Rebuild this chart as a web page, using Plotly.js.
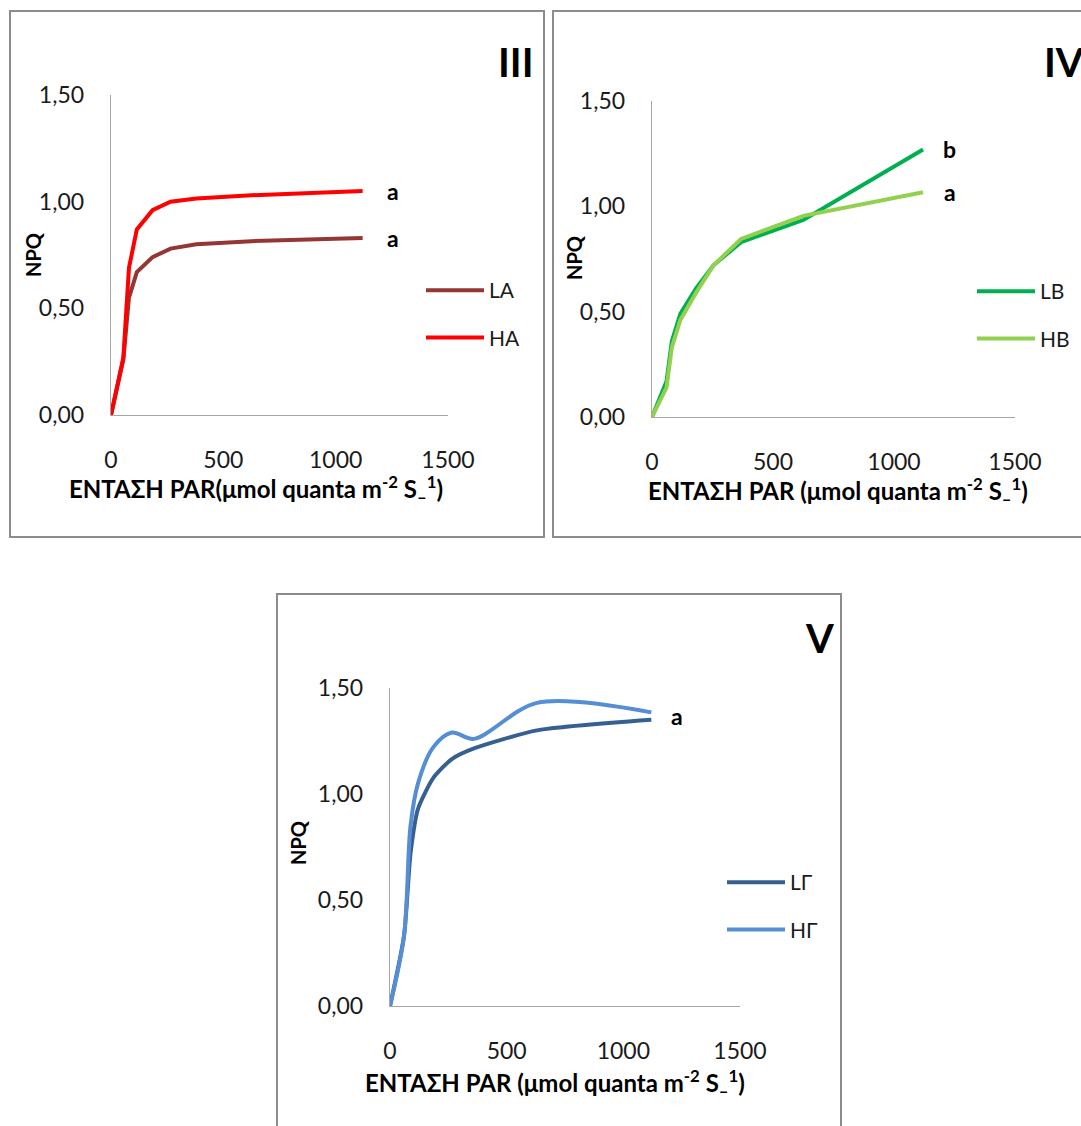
<!DOCTYPE html>
<html>
<head>
<meta charset="utf-8">
<script src="https://cdn.plot.ly/plotly-3.0.1.min.js"></script>
<style>html,body{margin:0;padding:0;background:#fff;}#chart{width:1081px;height:1126px;}</style>
</head>
<body>
<div id="chart"></div>
<script>
// ---- data ----
const parIII = [0, 55, 80, 115, 185, 265, 380, 625, 1120];
const LA = [0, 0.26, 0.55, 0.67, 0.74, 0.78, 0.80, 0.815, 0.83];
const HA = [0, 0.27, 0.69, 0.87, 0.96, 1.00, 1.015, 1.03, 1.05];

const parIV = [0, 60, 82, 117, 182, 254, 368, 625, 1120];
const LB = [0, 0.17, 0.36, 0.49, 0.61, 0.72, 0.83, 0.935, 1.27];
const HB = [0, 0.14, 0.33, 0.46, 0.59, 0.72, 0.845, 0.955, 1.067];

const parV = [0, 60, 88, 120, 185, 265, 360, 630, 1120];
const LG = [0, 0.33, 0.72, 0.93, 1.075, 1.165, 1.215, 1.30, 1.35];
const HG = [0, 0.33, 0.85, 1.05, 1.22, 1.29, 1.26, 1.43, 1.385];

const xTickVals = [0, 500, 1000, 1500];
const xTickText = ['0', '500', '1000', '1500'];
const yTickVals = [0, 0.5, 1, 1.5];
const yTickText = ['0,00', '0,50', '1,00', '1,50'];

const sigIII = ['a', 'a'];   // LA, HA
const sigIV = ['b', 'a'];    // LB, HB
const sigV = ['a'];

const xTitle1 = 'ΕΝΤΑΣΗ PAR(μmol quanta m<sup>-2</sup> S<sub>–</sub><sup>1</sup>)';
const xTitle2 = 'ΕΝΤΑΣΗ PAR (μmol quanta m<sup>-2</sup> S<sub>–</sub><sup>1</sup>)';

// ---- layout helpers ----
const W = 1081, H = 1126;
const px = v => v / W;
const py = v => 1 - v / H;
const FONT = 'Lato, "Open Sans", sans-serif';
const TXT = '#1a1a1a';

function xa(d) {
  return {domain: d, range: [0, 1500], tickvals: xTickVals, ticktext: xTickText,
    showline: true, linecolor: '#a6a6a6', linewidth: 1.3, showgrid: false, zeroline: false,
    ticks: '', ticklabelstandoff: 24, tickfont: {family: FONT, size: 23, color: TXT}, fixedrange: true};
}
function ya(d) {
  return {domain: d, range: [0, 1.5], tickvals: yTickVals, ticktext: yTickText,
    showline: true, linecolor: '#a6a6a6', linewidth: 1.3, showgrid: false, zeroline: false,
    ticks: '', ticklabelstandoff: 21, tickfont: {family: FONT, size: 23, color: TXT}, fixedrange: true};
}
function tr(x, y, name, color, xaxis, yaxis, legend, shape, sm) {
  return {x: x, y: y, name: name, type: 'scatter', mode: 'lines', xaxis: xaxis, yaxis: yaxis,
    legend: legend, legendgroup: name,
    line: {color: color, width: 4, shape: shape || 'linear', smoothing: sm || 0.9}};
}

const data = [
  tr(parIII, LA, 'LA', '#943634', 'x', 'y', 'legend'),
  tr(parIII, HA, 'HA', '#ff0000', 'x', 'y', 'legend'),
  tr(parIV, LB, 'LB', '#00b050', 'x2', 'y2', 'legend2'),
  tr(parIV, HB, 'HB', '#92d050', 'x2', 'y2', 'legend2'),
  tr(parV, LG, 'LΓ', '#376092', 'x3', 'y3', 'legend3', 'spline', 0.6),
  tr(parV, HG, 'HΓ', '#558ed5', 'x3', 'y3', 'legend3', 'spline', 0.9)
];

function leg(x, y) {
  return {x: x, y: y, xanchor: 'left', yanchor: 'top', bgcolor: 'rgba(0,0,0,0)',
    font: {family: FONT, size: 21, color: TXT}, itemwidth: 58, tracegroupgap: 17,
    traceorder: 'grouped'};
}

function box(x0, y0, x1, y1) {
  return {type: 'rect', xref: 'paper', yref: 'paper', x0: px(x0), x1: px(x1), y0: py(y1), y1: py(y0),
    line: {color: '#8c8c8c', width: 2}, fillcolor: 'rgba(0,0,0,0)'};
}
function ann(text, x, y, size, opts) {
  return Object.assign({text: text, xref: 'paper', yref: 'paper', x: px(x), y: py(y), showarrow: false,
    xanchor: 'center', yanchor: 'middle', font: {family: FONT, size: size, color: '#000'}}, opts || {});
}
function sig(text, xref, yref, xv, yv) {
  return {text: '<b>' + text + '</b>', xref: xref, yref: yref, x: xv, y: yv, showarrow: false,
    xanchor: 'center', yanchor: 'middle', font: {family: FONT, size: 23, color: '#000'}};
}
const last = a => a[a.length - 1];

const layout = {
  width: W, height: H, margin: {l: 0, r: 0, t: 0, b: 0},
  paper_bgcolor: '#fff', plot_bgcolor: '#fff', showlegend: true,
  xaxis: Object.assign(xa([px(111), px(448)]), {anchor: 'y'}),
  yaxis: Object.assign(ya([py(415), py(95)]), {anchor: 'x'}),
  xaxis2: Object.assign(xa([px(652), px(1015)]), {anchor: 'y2'}),
  yaxis2: Object.assign(ya([py(417), py(101)]), {anchor: 'x2'}),
  xaxis3: Object.assign(xa([px(390), px(740)]), {anchor: 'y3'}),
  yaxis3: Object.assign(ya([py(1006), py(688)]), {anchor: 'x3'}),
  legend: leg(px(421), py(270)),
  legend2: leg(px(972), py(271)),
  legend3: leg(px(722), py(862)),
  shapes: [box(10, 11, 544, 537), box(553, 11, 1090, 537), box(277, 594, 841, 1135)],
  annotations: [
    ann('<b>III</b>', 516, 62, 40),
    ann('<b>IV</b>', 1064, 62, 40),
    ann('<b>V</b>', 819, 638, 40),
    ann('<b>NPQ</b>', 33, 255, 20, {textangle: -90}),
    ann('<b>NPQ</b>', 574, 258, 20, {textangle: -90}),
    ann('<b>NPQ</b>', 298, 843, 20, {textangle: -90}),
    ann('<b>' + xTitle1 + '</b>', 256, 489, 24),
    ann('<b>' + xTitle2 + '</b>', 838, 491, 24),
    ann('<b>' + xTitle2 + '</b>', 555, 1083, 24),
    sig(sigIII[0], 'x', 'y', 1255, last(LA)),
    sig(sigIII[1], 'x', 'y', 1255, last(HA)),
    sig(sigIV[0], 'x2', 'y2', 1231, last(LB)),
    sig(sigIV[1], 'x2', 'y2', 1231, last(HB)),
    sig(sigV[0], 'x3', 'y3', 1230, (last(LG) + last(HG)) / 2)
  ]
};

Plotly.newPlot('chart', data, layout, {displayModeBar: false, staticPlot: true});
</script>
</body>
</html>
